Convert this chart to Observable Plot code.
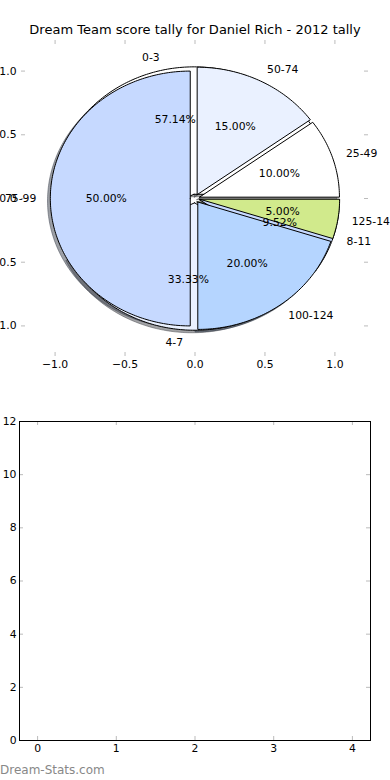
<!DOCTYPE html>
<html><head><meta charset="utf-8">
<script src="https://cdn.jsdelivr.net/npm/d3@7"></script>
<script src="https://cdn.jsdelivr.net/npm/@observablehq/plot@0.6"></script>
<style>
body{margin:0;background:#fff;font-family:"DejaVu Sans",sans-serif;}
#wrap{position:relative;width:390px;height:780px;overflow:hidden;background:#fff;}
#title{position:absolute;left:0;width:390px;top:21px;text-align:center;font-size:13px;line-height:18px;color:#000;z-index:2;white-space:nowrap;}
#wm{position:absolute;left:0;top:762px;font-size:12px;line-height:16px;color:#888888;font-weight:normal;z-index:2;}
.p{position:absolute;left:0;}
</style></head><body>
<div id="wrap">
<div id="pieBox" class="p" style="top:0"></div>
<div id="barBox" class="p" style="top:390px"></div>
<div id="title"></div>
<div id="wm"></div>
</div>
<script>
const titleText = "Dream Team score tally for Daniel Rich - 2012 tally";
const watermark = "Dream-Stats.com";
// first (lower) pie
const innerLabels = ["0-3", "4-7", "8-11"];
const innerValues = [12, 7, 2];
// second (upper) pie
const outerLabels = ["25-49", "50-74", "75-99", "100-124", "125-149"];
const outerValues = [2, 3, 10, 4, 1];
const wedgeColors = ["#ffffff", "#eaf1ff", "#c6d9ff", "#b5d5ff", "#d1ea8c"];
const pieTicks = [-1, -0.5, 0, 0.5, 1];
const barXTicks = [0, 1, 2, 3, 4];
const barYTicks = [0, 2, 4, 6, 8, 10, 12];
const explode = 0.034;

document.getElementById("title").textContent = titleText;
document.getElementById("wm").textContent = watermark;

function wedges(labels, values, colors) {
  const total = d3.sum(values);
  let cum = 0;
  return values.map((v, i) => {
    const t1 = cum / total * 360; cum += v; const t2 = cum / total * 360;
    const mid = (t1 + t2) / 2 * Math.PI / 180;
    const cx = explode * Math.cos(mid), cy = explode * Math.sin(mid);
    const pts = [{x: cx, y: cy}];
    const n = Math.max(2, Math.ceil(t2 - t1));
    for (let k = 0; k <= n; k++) {
      const a = (t1 + (t2 - t1) * k / n) * Math.PI / 180;
      pts.push({x: cx + Math.cos(a), y: cy + Math.sin(a)});
    }
    pts.push({x: cx, y: cy});
    return {label: labels[i], frac: v / total, color: colors[i], pts,
      lx: cx + 1.1 * Math.cos(mid), ly: cy + 1.1 * Math.sin(mid),
      px: cx + 0.6 * Math.cos(mid), py: cy + 0.6 * Math.sin(mid)};
  });
}
const pieA = wedges(innerLabels, innerValues, wedgeColors);
const pieB = wedges(outerLabels, outerValues, wedgeColors);
const allWedges = pieA.concat(pieB);
const shade = c => { const r = d3.rgb(c); return d3.rgb(r.r * 0.3, r.g * 0.3, r.b * 0.3).formatHex(); };

const W1 = 390, H1 = 390, mT = 40, mB = 34, mL = 21, mR = 22;
const iw = W1 - mL - mR, ih = H1 - mT - mB;
const tickStroke = "#bbbbbb";
const fs = "10.8px";

const pieMarks = [];
pieMarks.push(Plot.tickX(pieTicks, {x: d => d, stroke: tickStroke, insetBottom: ih - 4}));
pieMarks.push(Plot.tickX(pieTicks, {x: d => d, stroke: tickStroke, insetTop: ih - 4}));
pieMarks.push(Plot.tickY(pieTicks, {y: d => d, stroke: tickStroke, insetRight: iw - 4}));
pieMarks.push(Plot.tickY(pieTicks, {y: d => d, stroke: tickStroke, insetLeft: iw - 4}));
for (const w of allWedges) {
  pieMarks.push(Plot.line(w.pts, {x: "x", y: "y", fill: shade(w.color), stroke: shade(w.color), fillOpacity: 0.5, strokeOpacity: 0.5, strokeWidth: 1, dx: -2.8, dy: 2.5}));
}
for (const w of allWedges) {
  pieMarks.push(Plot.line(w.pts, {x: "x", y: "y", fill: w.color, stroke: "black", strokeWidth: 1, strokeLinejoin: "miter"}));
}
pieMarks.push(Plot.text(allWedges.filter(w => w.lx > 0), {x: "lx", y: "ly", text: "label", textAnchor: "start", fontSize: fs}));
pieMarks.push(Plot.text(allWedges.filter(w => w.lx <= 0), {x: "lx", y: "ly", text: "label", textAnchor: "end", fontSize: fs}));
pieMarks.push(Plot.text(allWedges, {x: "px", y: "py", text: d => d3.format(".2f")(d.frac * 100) + "%", fontSize: fs}));
pieMarks.push(Plot.axisX({ticks: pieTicks, tickSize: 0, tickPadding: 4, tickFormat: ".1f", fontSize: fs}));
pieMarks.push(Plot.axisY({ticks: pieTicks, tickSize: 0, tickPadding: 5, tickFormat: ".1f", fontSize: fs}));

const pieChart = Plot.plot({
  width: W1, height: H1, marginTop: mT, marginBottom: mB, marginLeft: mL, marginRight: mR,
  x: {domain: [-1.24, 1.24]}, y: {domain: [-1.24, 1.24]},
  style: {fontFamily: "DejaVu Sans", fontSize: fs, background: "transparent", color: "black"},
  marks: pieMarks
});
document.getElementById("pieBox").appendChild(pieChart);

const W2 = 390, H2 = 390, bT = 31, bB = 40, bL = 19, bR = 20;
const bw = W2 - bL - bR, bh = H2 - bT - bB;
const barChart = Plot.plot({
  width: W2, height: H2, marginTop: bT, marginBottom: bB, marginLeft: bL, marginRight: bR,
  x: {domain: [-0.23, 4.23]}, y: {domain: [0, 12]},
  style: {fontFamily: "DejaVu Sans", fontSize: fs, background: "transparent", color: "black"},
  marks: [
    Plot.tickX(barXTicks, {x: d => d, stroke: tickStroke, insetBottom: bh - 4}),
    Plot.tickX(barXTicks, {x: d => d, stroke: tickStroke, insetTop: bh - 4}),
    Plot.tickY(barYTicks, {y: d => d, stroke: tickStroke, insetRight: bw - 4}),
    Plot.tickY(barYTicks, {y: d => d, stroke: tickStroke, insetLeft: bw - 4}),
    Plot.frame({stroke: "black"}),
    Plot.axisX({ticks: barXTicks, tickSize: 0, tickPadding: 4, tickFormat: "d", fontSize: fs}),
    Plot.axisY({ticks: barYTicks, tickSize: 0, tickPadding: 3, tickFormat: "d", fontSize: fs})
  ]
});
document.getElementById("barBox").appendChild(barChart);
</script>
</body></html>
